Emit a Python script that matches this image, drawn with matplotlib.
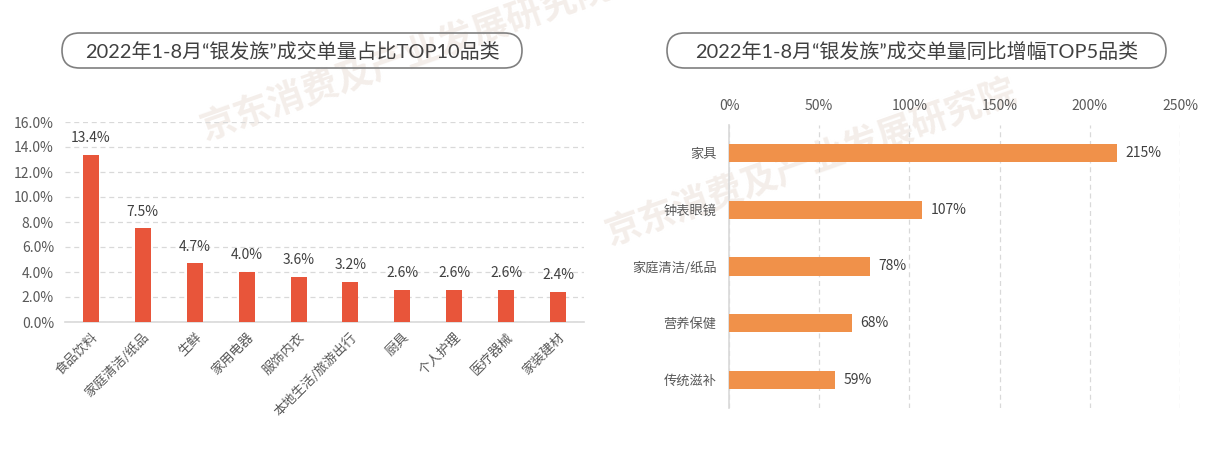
import matplotlib
matplotlib.use("Agg")
import matplotlib.pyplot as plt
from matplotlib.patches import FancyBboxPatch

plt.rcParams['font.family'] = ['Noto Sans CJK SC', 'DejaVu Sans']

# ---------------- data ----------------
title_left = "2022年1-8月“银发族”成交单量占比TOP10品类"
title_right = "2022年1-8月“银发族”成交单量同比增幅TOP5品类"
cats_left = ['食品饮料', '家庭清洁/纸品', '生鲜', '家用电器', '服饰内衣',
             '本地生活/旅游出行', '厨具', '个人护理', '医疗器械', '家装建材']
vals_left = [13.4, 7.5, 4.7, 4.0, 3.6, 3.2, 2.6, 2.6, 2.6, 2.4]
yticks_left = [0, 2, 4, 6, 8, 10, 12, 14, 16]

cats_right = ['家具', '钟表眼镜', '家庭清洁/纸品', '营养保健', '传统滋补']
vals_right = [215, 107, 78, 68, 59]
xticks_right = [0, 50, 100, 150, 200, 250]
watermark = "京东消费及产业发展研究院"

W, H = 1221, 459
fig = plt.figure(figsize=(W / 100, H / 100), dpi=100)
fig.patch.set_facecolor('white')

def px_axes(x0, y0, x1, y1, **kw):
    return fig.add_axes([x0 / W, 1 - y1 / H, (x1 - x0) / W, (y1 - y0) / H], **kw)

# overlay for titles and watermark
ov = fig.add_axes([0, 0, 1, 1], zorder=0)
ov.set_xlim(0, W)
ov.set_ylim(H, 0)
ov.axis('off')

for cx, cy in [(406, 58), (811, 163)]:
    ov.text(cx, cy, watermark, rotation=19.5, rotation_mode='anchor',
            ha='center', va='center', fontsize=26, fontweight='bold',
            color='#F4EEEA', zorder=0)

TXT = '#404040'
GRAY = '#595959'
GRID = '#D9D9D9'

for (x0, x1, t) in [(62, 522, title_left), (667, 1166, title_right)]:
    y0, y1 = 33, 68
    r = (y1 - y0) / 2
    box = FancyBboxPatch((x0 + r, y0 + r), (x1 - x0) - 2 * r, (y1 - y0) - 2 * r,
                         boxstyle=f"round,pad={r},rounding_size={r}",
                         facecolor='none', edgecolor='#7F7F7F',
                         linewidth=1.2, zorder=2)
    ov.add_patch(box)
    ov.text((x0 + x1) / 2, (y0 + y1) / 2 + 0.5, t, ha='center', va='center',
            fontsize=14.4, color=TXT, zorder=3,
            family=['Lato', 'Noto Sans CJK SC'])

# ---------------- left chart ----------------
axL = px_axes(65, 122, 584, 322, zorder=1)
axL.patch.set_alpha(0)
xs = list(range(len(cats_left)))
axL.bar(xs, vals_left, width=0.31, color='#E8553A', zorder=3)
axL.set_xlim(-0.5, len(cats_left) - 0.5)
axL.set_ylim(0, 16)
axL.set_yticks(yticks_left)
axL.set_yticklabels([f"{v:.1f}%" for v in yticks_left], fontsize=10, color=GRAY)
axL.set_xticks(xs)
axL.set_xticklabels(cats_left, rotation=45, ha='right', va='top',
                    rotation_mode='anchor', fontsize=9.5, color=GRAY)
axL.tick_params(axis='both', length=0)
axL.tick_params(axis='y', pad=8)
axL.tick_params(axis='x', pad=6)
axL.yaxis.grid(True, linestyle=(0, (4, 3)), color=GRID, linewidth=0.9)
axL.set_axisbelow(True)
for s in ['top', 'right', 'left']:
    axL.spines[s].set_visible(False)
axL.spines['bottom'].set_color(GRID)
axL.spines['bottom'].set_linewidth(1.2)
for x, v in zip(xs, vals_left):
    axL.annotate(f"{v:.1f}%", (x, v), xytext=(0, 7), textcoords='offset points',
                 ha='center', va='bottom', fontsize=10, color=TXT)

# ---------------- right chart ----------------
axR = px_axes(729, 125, 1180, 408, zorder=1)
axR.patch.set_alpha(0)
ys = list(range(len(cats_right)))
axR.barh(ys, vals_right, height=0.32, color='#F0914A', zorder=3)
axR.set_ylim(len(cats_right) - 0.5, -0.5)
axR.set_xlim(0, 250)
axR.set_xticks(xticks_right)
axR.set_xticklabels([f"{v}%" for v in xticks_right], fontsize=10, color=GRAY)
axR.xaxis.tick_top()
axR.set_yticks(ys)
axR.set_yticklabels(cats_right, fontsize=9.5, color=GRAY)
axR.tick_params(axis='both', length=0)
axR.tick_params(axis='x', pad=9)
axR.tick_params(axis='y', pad=9)
axR.xaxis.grid(True, linestyle=(0, (4, 3)), color=GRID, linewidth=0.9)
axR.set_axisbelow(True)
for s in ['top', 'right', 'bottom']:
    axR.spines[s].set_visible(False)
axR.spines['left'].set_color(GRID)
axR.spines['left'].set_linewidth(1.2)
for y, v in zip(ys, vals_right):
    axR.annotate(f"{v}%", (v, y), xytext=(6, 0), textcoords='offset points',
                 ha='left', va='center', fontsize=10, color=TXT)

fig.savefig('out.png', dpi=100, facecolor='white')
